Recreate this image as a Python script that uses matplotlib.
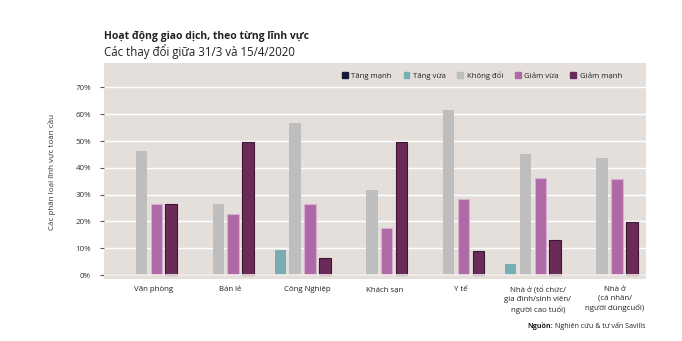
import matplotlib
matplotlib.use("Agg")
import matplotlib.pyplot as plt
from matplotlib.patches import Patch
import numpy as np

plt.rcParams['font.family'] = ['Open Sans', 'DejaVu Sans']

categories = ["Văn phòng", "Bán lẻ", "Công Nghiệp", "Khách sạn", "Y tế",
              "Nhà ở (tổ chức/\ngia đình/sinh viên/\nngười cao tuổi)",
              "Nhà ở\n(cá nhân/\nngười dùngcuối)"]
series_names = ["Tăng mạnh", "Tăng vừa", "Không đổi", "Giảm vừa", "Giảm mạnh"]
tang_manh = [0, 0, 0, 0, 0, 0, 0]
tang_vua = [0, 0, 9.3, 0, 0, 4.2, 0]
khong_doi = [46.4, 26.4, 56.6, 31.8, 61.7, 45.3, 43.8]
giam_vua = [26.4, 22.9, 26.4, 17.5, 28.4, 36.2, 35.7]
giam_manh = [26.4, 49.8, 6.2, 49.8, 9.1, 13.2, 19.8]
yticks = [0, 10, 20, 30, 40, 50, 60, 70]

series = [tang_manh, tang_vua, khong_doi, giam_vua, giam_manh]
colors = ["#161b35", "#78adb4", "#bebebe", "#ae6aa6", "#6a2b58"]
edges = ["#161b35", "#78adb4", "#bebebe", "#d9b0d2", "#3e1632"]

W, H = 682, 341
fig = plt.figure(figsize=(W / 100, H / 100), dpi=100)
fig.patch.set_facecolor("white")
ax = fig.add_axes([103.5 / W, 1 - 279 / H, (645.7 - 103.5) / W, (279 - 62.5) / H])
ax.set_facecolor("#e4dfda")

x = np.arange(len(categories))
slot = 0.193
bw = 0.15
for k, (vals, c, e) in enumerate(zip(series, colors, edges)):
    lw = 0.8 if k >= 3 else 0
    ax.bar(x + (k - 2) * slot, vals, width=bw, color=c, edgecolor=e, linewidth=lw, zorder=3)

ax.set_xlim(-0.496, 6.566)
ax.set_ylim(-1.49, 79.33)
ax.set_yticks(yticks)
ax.set_yticklabels([f"{v}%" for v in yticks], fontsize=5.8, color="#333333")
ax.set_xticks(x + 0.16)
ax.set_xticklabels(categories, fontsize=5.7, color="#222222", linespacing=1.35)
ax.tick_params(axis="x", length=0, pad=5)
ax.tick_params(axis="y", length=3, width=0.8, color="#555555", pad=6)
for s in ax.spines.values():
    s.set_visible(False)
for v in yticks[1:]:
    ax.axhline(v, color="white", lw=1.0, zorder=1)
ax.axhline(0, color="#f2efec", lw=1.2, zorder=4)

handles = [Patch(facecolor=c, edgecolor=c) for c in colors]
leg = fig.legend(handles, series_names, loc="center", ncol=5, frameon=False,
                 bbox_to_anchor=(482 / W, 1 - 75.7 / H), fontsize=5.6,
                 handlelength=0.75, handleheight=0.75, handletextpad=0.45,
                 columnspacing=1.5)
for t in leg.get_texts():
    t.set_color("#222222")

fig.text(52 / W, 1 - 171.7 / H, "Các phân loại lĩnh vực toàn cầu", rotation=90,
         ha="center", va="center", fontsize=5.8, color="#333333")
fig.text(103.5 / W, 1 - 36.5 / H, "Hoạt động giao dịch, theo từng lĩnh vực",
         ha="left", va="center", fontsize=7.5, fontweight="bold", color="#222222")
fig.text(103.5 / W, 1 - 51.5 / H, "Các thay đổi giữa 31/3 và 15/4/2020",
         ha="left", va="center", fontsize=8.3, color="#222222")

src = fig.text(645.7 / W, 1 - 325.7 / H, " Nghiên cứu & tư vấn Savills",
               ha="right", va="center", fontsize=5.1, color="#222222")
fig.canvas.draw()
bb = src.get_window_extent()
fig.text(bb.x0 / W, 1 - 325.7 / H, "Nguồn:", ha="right", va="center",
         fontsize=5.1, fontweight="bold", color="#222222")

fig.savefig("out.png", dpi=100)
